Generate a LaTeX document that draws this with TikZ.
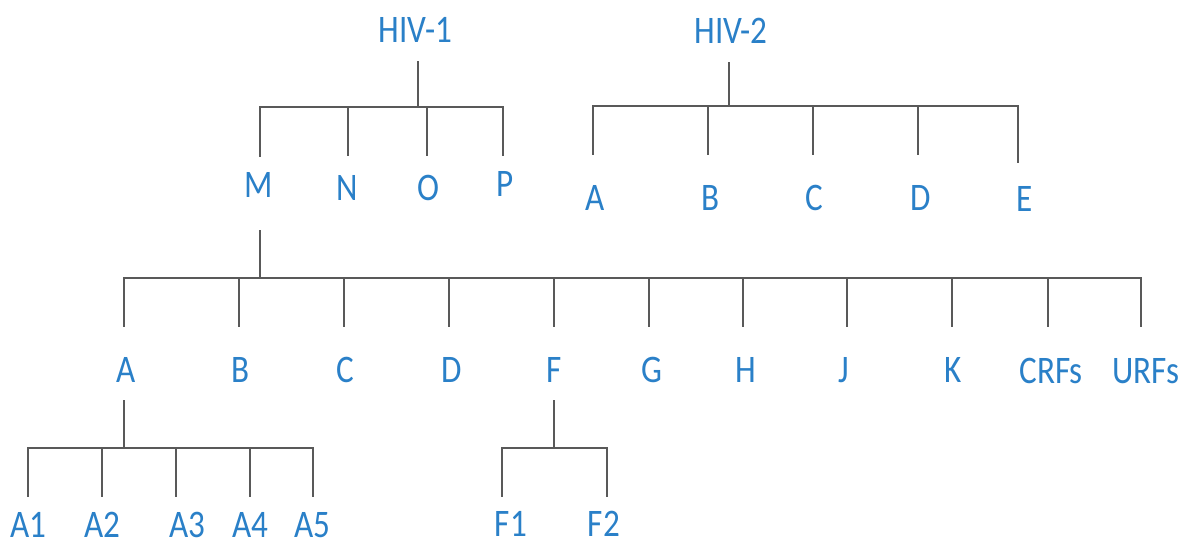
\documentclass[tikz,border=0pt]{standalone}
\usepackage{fontspec}
\setmainfont{Carlito}
\definecolor{labelblue}{HTML}{2A80C8}
\definecolor{linegray}{HTML}{595959}
\newcommand\narrow[1]{\scalebox{0.85}[1]{#1}}
\tikzset{
  lbl/.style={anchor=base, inner sep=0pt, text=labelblue,
    font=\fontsize{39}{40}\selectfont},
  branch/.style={draw=linegray, line width=2.4pt, line join=miter}
}
\begin{document}
\begin{tikzpicture}[x=1pt, y=-1pt]
\useasboundingbox[fill=white] (0,0) rectangle (1184,541);

% ---- labels ----
\node[lbl] (hiv1) at (415.5,42) {\narrow{HIV-1}};
\node[lbl] (hiv2) at (731,43) {\narrow{HIV-2}};

\node[lbl] (m) at (259,197) {\narrow{M}};
\node[lbl] (n) at (347.5,200) {\narrow{N}};
\node[lbl] (o) at (428,200) {\narrow{O}};
\node[lbl] (p) at (505,196) {\narrow{P}};

\node[lbl] (ta) at (595,210) {\narrow{A}};
\node[lbl] (tb) at (711,210) {\narrow{B}};
\node[lbl] (tc) at (814,210) {\narrow{C}};
\node[lbl] (td) at (921,210) {\narrow{D}};
\node[lbl] (te) at (1025,211) {\narrow{E}};

\node[lbl] (a) at (126,382) {\narrow{A}};
\node[lbl] (b) at (241,382) {\narrow{B}};
\node[lbl] (c) at (345.5,382) {\narrow{C}};
\node[lbl] (d) at (452,382) {\narrow{D}};
\node[lbl] (f) at (554,382) {\narrow{F}};
\node[lbl] (g) at (651.5,382) {\narrow{G}};
\node[lbl] (h) at (746,382) {\narrow{H}};
\node[lbl] (j) at (844,382) {\narrow{J}};
\node[lbl] (k) at (953,382) {\narrow{K}};
\node[lbl] (crf) at (1051,383) {\narrow{CRFs}};
\node[lbl] (urf) at (1146,383) {\narrow{URFs}};

\node[lbl] (a1) at (28,537) {\narrow{A1}};
\node[lbl] (a2) at (102,537) {\narrow{A2}};
\node[lbl] (a3) at (187,537) {\narrow{A3}};
\node[lbl] (a4) at (250,537) {\narrow{A4}};
\node[lbl] (a5) at (312,537) {\narrow{A5}};

\node[lbl] (f1) at (511,536) {\narrow{F1}};
\node[lbl] (f2) at (604,536) {\narrow{F2}};

% ---- stem ends and junctions ----
\coordinate (hiv1s) at (418,61);  \coordinate (hiv1j) at (418,107);
\coordinate (ms) at (260,157);    \coordinate (ns) at (348,156);
\coordinate (os) at (427,156);    \coordinate (ps) at (503,156);

\coordinate (hiv2s) at (729,62);  \coordinate (hiv2j) at (729,106);
\coordinate (tas) at (593,155);   \coordinate (tbs) at (708,155);
\coordinate (tcs) at (813,155);   \coordinate (tds) at (918,155);
\coordinate (tes) at (1018,163);

\coordinate (mt) at (260,230);    \coordinate (mj) at (260,278);
\coordinate (as) at (124,327);    \coordinate (bs) at (239,327);
\coordinate (cs) at (344,327);    \coordinate (ds) at (449,327);
\coordinate (fs) at (554,327);    \coordinate (gs) at (649,327);
\coordinate (hs) at (743,327);    \coordinate (js) at (847,327);
\coordinate (ks) at (952,327);    \coordinate (crfs) at (1048,327);
\coordinate (urfs) at (1141,327);

\coordinate (at) at (124,400);    \coordinate (aj) at (124,448);
\coordinate (a1s) at (28,497);    \coordinate (a2s) at (102,497);
\coordinate (a3s) at (176,497);   \coordinate (a4s) at (250,497);
\coordinate (a5s) at (313,497);

\coordinate (ft) at (554,400);    \coordinate (fj) at (554,448);
\coordinate (f1s) at (502,497);   \coordinate (f2s) at (607,497);

% ---- branches ----
\draw[branch] (hiv1s) -- (hiv1j);
\foreach \s in {ms,ns,os,ps} \draw[branch] (hiv1j) -| (\s);

\draw[branch] (hiv2s) -- (hiv2j);
\foreach \s in {tas,tbs,tcs,tds,tes} \draw[branch] (hiv2j) -| (\s);

\draw[branch] (mt) -- (mj);
\foreach \s in {as,bs,cs,ds,fs,gs,hs,js,ks,crfs,urfs} \draw[branch] (mj) -| (\s);

\draw[branch] (at) -- (aj);
\foreach \s in {a1s,a2s,a3s,a4s,a5s} \draw[branch] (aj) -| (\s);

\draw[branch] (ft) -- (fj);
\foreach \s in {f1s,f2s} \draw[branch] (fj) -| (\s);
\end{tikzpicture}
\end{document}
